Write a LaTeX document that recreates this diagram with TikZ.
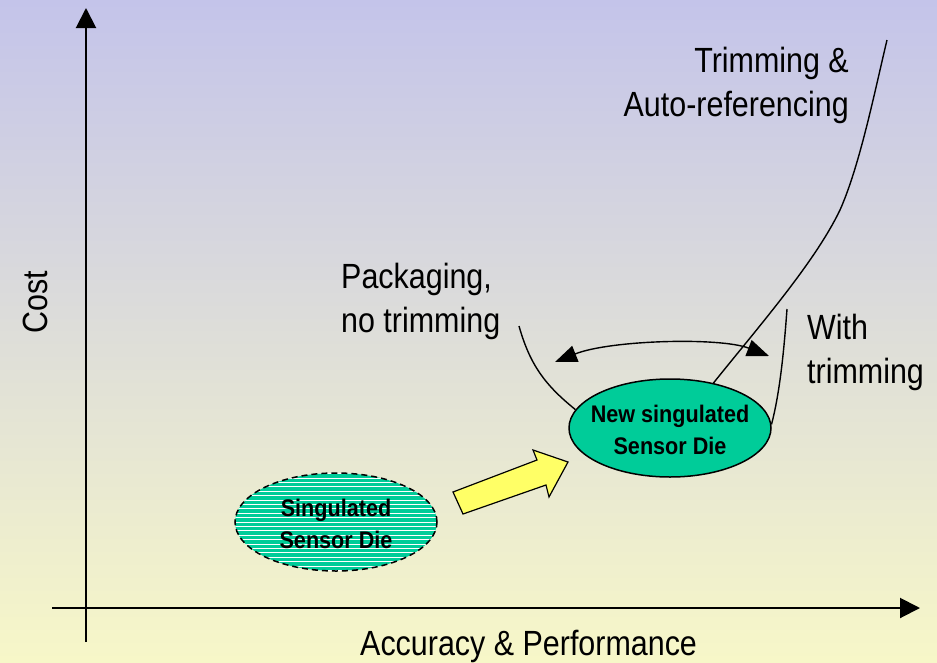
\documentclass[tikz,border=0pt]{standalone}
\usepackage{fontspec}
\setmainfont{Liberation Sans}[FakeStretch=0.87]
\newfontfamily\elfont{Liberation Sans}[FakeStretch=0.9]
\usetikzlibrary{arrows.meta,shapes.geometric}
\definecolor{bgtop}{RGB}{196,196,234}
\definecolor{bgmid}{RGB}{224,224,218}
\definecolor{bgbot}{RGB}{247,247,200}
\definecolor{die}{RGB}{0,204,153}
\definecolor{arrowyellow}{RGB}{255,255,102}
\tikzset{
  axis/.style={line width=2pt,-{Triangle[length=20pt,width=20pt]}},
  curve/.style={line width=1.4pt},
  labeltext/.style={font=\fontsize{35}{44}\selectfont,inner sep=0pt},
  diebox/.style={ellipse,draw,line width=1.5pt,fill=die,inner sep=0pt,minimum width=202pt,minimum height=98pt},
  dietext/.style={font=\elfont\bfseries\fontsize{24}{31.5}\selectfont,align=center,inner sep=0pt},
  twoway/.style={line width=1.4pt,{Triangle[length=22pt,width=17pt]}-{Triangle[length=22pt,width=17pt]}}
}
\begin{document}
\begin{tikzpicture}[x=1pt,y=-1pt]
\useasboundingbox (0,0) rectangle (937,662);
\shade[top color=bgtop,middle color=bgmid,bottom color=bgbot] (0,0) rectangle (937,662);
% axes
\coordinate (ybot) at (86,642);
\coordinate (ytop) at (86,8);
\coordinate (xleft) at (52,608);
\coordinate (xright) at (920,608);
\draw[axis] (ybot) -- (ytop);
\draw[axis] (xleft) -- (xright);
\node[labeltext,rotate=90,anchor=base] (cost) at (47,302) {Cost};
\node[labeltext,anchor=base west] (acc) at (360,655) {Accuracy \& Performance};
% dies
\node[diebox,dash pattern=on 6pt off 4pt,
  path picture={\foreach \k in {-12,...,12}
    \draw[solid,white,line width=0.8pt] ([yshift=\k*4.4pt]path picture bounding box.west) -- ([yshift=\k*4.4pt]path picture bounding box.east);}] (old) at (336,522) {};
\node[dietext] (oldtext) at (336,524) {Singulated\\Sensor Die};
\node[diebox] (new) at (670,428) {};
\node[dietext] (newtext) at (670,430) {New singulated\\Sensor Die};
% block arrow
\draw[line width=1.2pt,fill=arrowyellow,line join=miter]
  (453,492) -- (537,460) -- (533,450) -- (568,462) -- (549,497) -- (546,485) -- (463,514) -- cycle;
% curves
\coordinate (packtop) at (519,326);
\coordinate (trimtop) at (787,309);
\coordinate (autotop) at (887,40);
\draw[curve] (packtop) .. controls (530,365) and (545,385) .. (new.169);
\draw[curve] (trimtop) .. controls (784,350) and (780,392) .. (new.2);
\draw[curve] (new.46) .. controls (760,325) and (815,262) .. (840,210) .. controls (860,165) and (875,90) .. (autotop);
% double arrow
\coordinate (dl) at (555,362);
\coordinate (dr) at (769,356);
\draw[twoway] (dl) .. controls (610,340) and (720,337) .. (dr);
% labels
\node[labeltext,align=right,anchor=north east] (auto) at (849,47) {Trimming \&\\Auto-referencing};
\node[labeltext,align=left,anchor=north west] (pack) at (341,263) {Packaging,\\no trimming};
\node[labeltext,align=left,anchor=north west] (with) at (807,314) {With\\trimming};
\end{tikzpicture}
\end{document}
